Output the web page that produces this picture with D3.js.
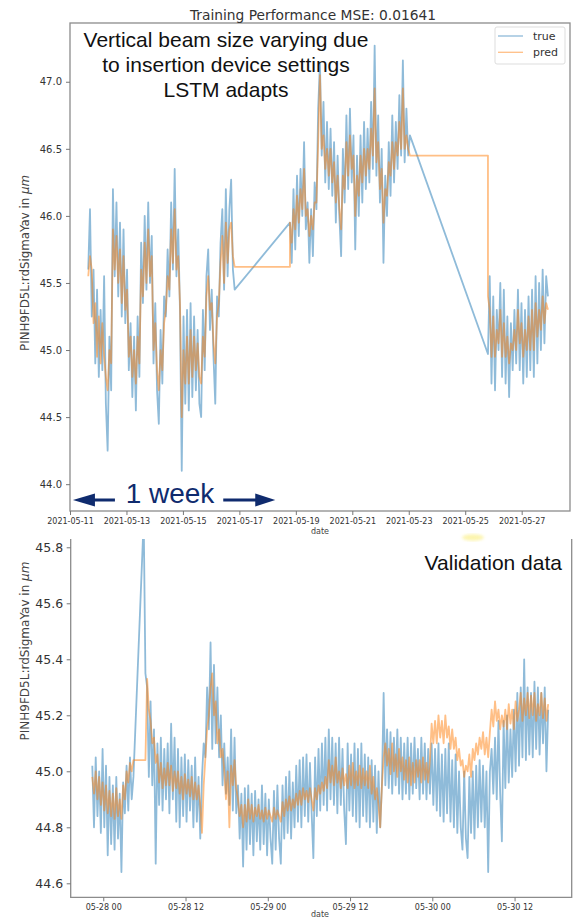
<!DOCTYPE html>
<html>
<head>
<meta charset="utf-8">
<script src="https://cdn.jsdelivr.net/npm/d3@7"></script>
<style>
  html, body { margin: 0; padding: 0; background: #fff; }
  svg { display: block; }
  .tick text { fill: #333; font-family: "DejaVu Sans", sans-serif; }
  .tick line { stroke: #777; stroke-width: 1; }
</style>
</head>
<body>
<svg id="chart" width="577" height="918"></svg>
<script>
// ---------------- data ----------------
// Training period: three sampled segments, one value every 90 minutes
const trainTickDates = ["2021-05-11","2021-05-13","2021-05-15","2021-05-17","2021-05-19",
                        "2021-05-21","2021-05-23","2021-05-25","2021-05-27"];
const trainYTicks = [44.0, 44.5, 45.0, 45.5, 46.0, 46.5, 47.0];
const trainSegStarts = ["2021-05-11T15:30", "2021-05-18T19:00", "2021-05-25T19:20"];
const trainStepMin = 90;

const trainTrue1 = [45.60,46.05,45.25,45.60,44.90,45.45,44.80,45.30,44.85,45.55,
                    44.60,44.25,45.10,44.70,46.20,45.55,46.10,45.40,45.95,45.25,
                    45.90,45.20,45.60,44.85,45.20,44.65,45.10,44.55,45.25,44.80,
                    45.80,45.35,46.00,45.45,46.10,45.50,45.85,44.90,45.35,44.70,
                    44.45,45.15,44.75,45.40,45.25,45.75,45.40,46.10,45.60,46.35,
                    45.55,45.90,45.30,44.10,45.25,44.60,45.30,44.55,45.35,44.65,
                    45.25,44.70,45.15,44.60,44.50,45.30,44.85,45.55,45.75,45.15,
                    45.45,44.95,44.60,45.40,45.25,45.80,46.05,45.45,46.20,45.55,
                    46.05,46.27,45.60,45.45];
const trainPred1 = [45.55,45.70,45.60,45.20,45.35,44.95,45.25,44.90,45.20,44.95,
                    44.80,44.70,45.00,44.90,45.90,45.60,45.85,45.50,45.75,45.35,
                    45.70,45.30,45.45,44.95,45.10,44.80,45.00,44.75,45.10,44.90,
                    45.60,45.40,45.80,45.50,45.90,45.55,45.70,45.00,45.20,44.85,
                    44.70,45.00,44.85,45.20,45.30,45.55,45.45,45.90,45.65,46.05,
                    45.60,45.70,45.35,44.50,45.00,44.75,45.10,44.75,45.15,44.80,
                    45.10,44.85,45.05,44.80,44.75,45.10,44.95,45.40,45.55,45.30,
                    45.35,45.05,44.90,45.25,45.35,45.65,45.85,45.50,45.95,45.65,
                    45.90,45.95,45.70,45.62];

const trainTrue2 = [45.95,45.65,46.20,45.75,46.30,45.85,46.35,46.00,46.55,45.90,
                    46.10,45.65,46.05,45.70,46.25,46.05,46.80,47.14,46.45,46.85,
                    46.25,46.70,46.20,46.65,46.15,46.55,45.95,46.45,46.00,45.70,
                    46.50,46.10,46.75,46.20,46.80,46.25,46.60,45.75,46.45,46.00,
                    46.60,46.10,46.70,46.20,46.65,46.25,46.85,46.35,47.27,46.30,
                    46.75,46.10,46.50,45.65,46.30,46.00,46.55,46.15,46.75,46.25,
                    46.70,46.35,46.90,46.45,47.16,46.40,46.80,46.45,46.60];
const trainPred2 = [45.95,45.80,46.05,45.90,46.15,45.95,46.20,46.05,46.35,46.00,
                    46.05,45.85,46.00,45.90,46.10,46.10,46.55,47.05,46.50,46.60,
                    46.35,46.50,46.30,46.50,46.25,46.40,46.10,46.30,46.05,45.90,
                    46.30,46.20,46.55,46.30,46.60,46.35,46.45,46.00,46.30,46.15,
                    46.45,46.25,46.50,46.30,46.50,46.35,46.65,46.45,46.95,46.40,
                    46.55,46.20,46.35,45.95,46.20,46.15,46.40,46.30,46.55,46.35,
                    46.55,46.45,46.70,46.50,46.95,46.50,46.60,46.50,46.45];

const trainTrue3 = [44.97,45.55,44.75,45.40,44.70,45.30,45.00,45.50,44.80,45.45,
                    44.75,45.25,44.65,45.20,44.85,45.30,44.90,45.45,44.85,45.35,
                    44.75,45.30,44.80,45.40,44.85,45.45,44.80,45.55,44.90,45.50,
                    45.00,45.60,45.05,45.55,45.40];
const trainPred3 = [45.40,45.30,44.95,45.25,44.95,45.15,45.05,45.30,44.95,45.20,
                    44.95,45.10,44.90,45.05,45.00,45.15,45.00,45.30,45.05,45.20,
                    44.95,45.15,45.00,45.25,45.00,45.30,45.00,45.35,45.10,45.30,
                    45.15,45.40,45.20,45.35,45.30];

// Validation period: one value every 15 minutes (null = no sample)
const valTickTimes = ["2021-05-28T00:00","2021-05-28T12:00","2021-05-29T00:00",
                      "2021-05-29T12:00","2021-05-30T00:00","2021-05-30T12:00"];
const valYTicks = [44.6, 44.8, 45.0, 45.2, 45.4, 45.6, 45.8];
const valStart = "2021-05-27T22:24";
const valStepMin = 15;

const valTrue = [45.02,44.80,45.05,44.84,45.00,44.78,45.08,44.80,45.02,44.70,
                 44.98,44.74,44.95,44.72,44.98,44.76,44.92,44.64,44.96,44.85,
                 45.02,44.86,45.05,44.90,44.98,null,null,null,null,null,
                 45.90,45.35,45.30,44.98,45.25,44.95,45.15,44.67,45.10,44.88,
                 45.12,44.86,45.08,44.90,45.10,44.85,45.17,44.90,45.12,44.82,
                 45.08,44.80,45.05,44.84,45.06,44.82,45.04,44.86,45.02,44.80,
                 45.05,44.82,44.98,44.76,44.98,45.10,45.05,45.30,45.15,45.46,
                 45.08,45.38,45.10,45.30,45.05,45.20,44.95,45.10,44.92,45.05,
                 44.88,45.15,44.86,45.12,44.85,44.95,44.76,44.92,44.66,44.94,
                 44.72,44.95,44.74,44.92,44.70,44.93,44.75,44.90,44.72,44.95,
                 44.74,44.92,44.70,44.90,44.76,44.67,44.93,44.72,44.95,44.76,
                 44.67,44.95,44.76,44.98,44.78,45.00,44.76,44.96,44.80,45.02,
                 44.82,45.04,44.80,45.05,44.84,45.06,44.82,45.03,44.85,44.69,
                 45.05,44.84,45.08,44.86,45.10,44.88,45.12,44.86,45.15,44.90,
                 45.12,44.88,45.10,44.85,45.12,44.88,45.08,44.86,44.74,45.10,
                 44.86,45.06,44.84,45.10,44.82,45.08,44.80,45.10,44.84,45.06,
                 44.82,45.05,44.80,45.04,44.82,45.02,44.78,45.00,44.80,44.95,
                 45.28,44.95,45.15,44.94,45.14,44.92,45.12,44.95,45.15,44.92,
                 45.12,44.90,45.10,44.92,45.12,44.90,45.10,44.92,45.12,44.94,
                 45.08,44.90,45.12,44.92,45.10,44.90,45.08,44.92,45.10,44.88,
                 45.08,44.86,45.10,44.84,45.06,44.82,45.08,44.85,45.10,44.82,
                 45.04,44.80,45.06,44.78,45.00,44.80,44.72,45.00,44.76,44.69,
                 44.98,44.78,45.00,44.76,45.02,44.80,45.04,44.82,45.02,44.80,
                 45.00,44.64,45.00,45.08,44.92,45.12,44.90,45.18,44.92,44.75,
                 45.18,44.94,45.20,44.96,45.15,44.98,45.22,45.00,45.28,45.02,
                 45.30,45.05,45.40,45.04,45.30,45.06,45.28,45.05,45.32,45.08,
                 45.30,45.06,45.28,45.10,45.30,45.00,45.22];
const valPred = [44.98,44.92,45.00,44.90,44.98,44.88,44.96,44.86,44.95,44.85,
                 44.93,44.84,44.92,44.83,44.94,44.84,44.90,44.83,44.95,44.90,
                 45.00,44.96,45.03,45.00,45.04,null,null,null,null,null,
                 null,45.04,45.33,45.22,45.18,45.10,45.12,45.03,45.06,44.96,
                 45.03,44.94,45.01,44.95,45.03,44.95,45.02,44.93,45.00,44.94,
                 45.00,44.92,44.98,44.90,44.99,44.92,44.97,44.91,44.98,44.90,
                 44.96,44.90,44.95,44.88,44.78,44.95,45.05,45.15,45.20,45.30,
                 45.35,45.20,45.25,45.10,45.15,45.05,45.08,45.00,44.90,45.00,
                 44.80,45.02,44.95,45.04,44.94,44.90,44.84,44.88,44.80,44.88,
                 44.82,44.90,44.83,44.88,44.82,44.87,44.84,44.88,44.83,44.86,
                 44.82,44.87,44.83,44.86,44.84,44.82,44.87,44.83,44.86,44.84,
                 44.82,44.89,44.84,44.90,44.86,44.91,44.86,44.90,44.87,44.92,
                 44.88,44.93,44.88,44.94,44.90,44.93,44.89,44.94,44.90,44.86,
                 44.94,44.90,44.95,44.92,44.96,44.93,44.98,44.94,45.04,44.96,
                 45.02,44.95,45.05,44.96,45.00,44.94,45.01,44.95,44.99,44.94,
                 45.02,44.95,45.03,44.94,45.00,44.95,45.02,44.94,45.01,44.95,
                 45.00,44.94,45.02,44.92,44.98,44.90,44.94,44.88,44.80,44.95,
                 45.05,45.10,45.02,45.08,44.99,45.10,45.00,45.06,44.98,45.08,
                 45.00,45.05,44.97,45.04,44.96,45.05,44.95,45.03,44.96,45.04,
                 44.98,45.04,44.96,45.05,44.97,45.03,44.96,45.04,45.17,45.10,
                 45.18,45.10,45.20,45.12,45.18,45.10,45.20,45.12,45.16,45.08,
                 45.15,45.08,45.12,45.04,45.08,45.02,45.04,44.98,45.02,45.00,
                 45.06,44.98,45.08,45.04,45.10,45.06,45.12,45.08,45.14,45.06,
                 45.12,45.05,45.14,45.22,45.16,45.25,45.18,45.22,45.15,45.20,
                 45.16,45.22,45.15,45.24,45.17,45.22,45.15,45.25,45.18,45.22,
                 45.28,45.18,45.26,45.20,45.28,45.19,45.27,45.20,45.28,45.18,
                 45.24,45.20,45.28,45.19,45.26,45.18,45.24];

const seriesNames = ["true", "pred"];
const seriesColors = ["#1f77b4", "#ff7f0e"];

// ---------------- helpers ----------------
const parseT = d3.utcParse("%Y-%m-%dT%H:%M");
const parseD = d3.utcParse("%Y-%m-%d");

function sampled(start, stepMin, values) {
  const t0 = parseT(start).getTime();
  return values.map((v, i) => ({ t: new Date(t0 + i * stepMin * 60000), v }))
               .filter(d => d.v !== null);
}

const svg = d3.select("#chart");
const FONT = "'DejaVu Sans', sans-serif";
const SPINE = "#8c8c8c";
const LW = 1.8;

// ================= training chart =================
const topBox = { left: 70, right: 570, top: 23, bottom: 511 };
const xT = d3.scaleUtc()
  .domain([parseT("2021-05-11T00:00"), parseT("2021-05-28T17:05")])
  .range([topBox.left, topBox.right]);
const yT = d3.scaleLinear().domain([43.80, 47.438]).range([topBox.bottom, topBox.top]);

const segT = trainSegStarts.map((s, k) =>
  sampled(s, trainStepMin, [trainTrue1, trainTrue2, trainTrue3][k]));
const segP = trainSegStarts.map((s, k) =>
  sampled(s, trainStepMin, [trainPred1, trainPred2, trainPred3][k]));

const trainTrueData = [].concat(...segT);
// the prediction holds its last value until the next segment begins
const trainPredData = [];
segP.forEach((seg, k) => {
  if (k > 0) trainPredData.push({ t: seg[0].t, v: segP[k - 1][segP[k - 1].length - 1].v });
  trainPredData.push(...seg);
});

const defs = svg.append("defs");
defs.append("clipPath").attr("id", "clipTop").append("rect")
  .attr("x", topBox.left).attr("y", topBox.top)
  .attr("width", topBox.right - topBox.left).attr("height", topBox.bottom - topBox.top);

const lineT = d3.line().x(d => xT(d.t)).y(d => yT(d.v));
const gTop = svg.append("g").attr("clip-path", "url(#clipTop)");
gTop.append("path").datum(trainTrueData).attr("d", lineT)
  .attr("fill", "none").attr("stroke", seriesColors[0]).attr("stroke-opacity", 0.5)
  .attr("stroke-width", LW).attr("stroke-linejoin", "round");
gTop.append("path").datum(trainPredData).attr("d", lineT)
  .attr("fill", "none").attr("stroke", seriesColors[1]).attr("stroke-opacity", 0.5)
  .attr("stroke-width", LW).attr("stroke-linejoin", "round");

// spines
svg.append("rect").attr("x", topBox.left).attr("y", topBox.top)
  .attr("width", topBox.right - topBox.left).attr("height", topBox.bottom - topBox.top)
  .attr("fill", "none").attr("stroke", SPINE).attr("stroke-width", 1.3);

// axes
const axYT = svg.append("g").attr("transform", `translate(${topBox.left},0)`)
  .call(d3.axisLeft(yT).tickValues(trainYTicks).tickFormat(d3.format(".1f"))
    .tickSize(4).tickPadding(4));
axYT.select(".domain").remove();
axYT.selectAll("text").attr("font-size", 10).attr("fill", "#444");

const axXT = svg.append("g").attr("transform", `translate(0,${topBox.bottom})`)
  .call(d3.axisBottom(xT).tickValues(trainTickDates.map(parseD))
    .tickFormat(d3.utcFormat("%Y-%m-%d")).tickSize(4).tickPadding(3.5));
axXT.select(".domain").remove();
axXT.selectAll("text").attr("font-size", 8).attr("fill", "#444");

svg.append("text").attr("x", 320).attr("y", 534).attr("text-anchor", "middle")
  .attr("font-family", FONT).attr("font-size", 8).attr("fill", "#444").text("date");

const ylabT = svg.append("text")
  .attr("transform", `translate(29,${(topBox.top + topBox.bottom) / 2 - 4}) rotate(-90)`)
  .attr("text-anchor", "middle").attr("font-family", FONT).attr("font-size", 11.8).attr("fill", "#444");
ylabT.append("tspan").text("PINH9FD5L:rdSigmaYav in ");
ylabT.append("tspan").attr("font-style", "italic").text("μm");

svg.append("text").attr("x", 313).attr("y", 20).attr("text-anchor", "middle")
  .attr("font-family", FONT).attr("font-size", 13.8).attr("fill", "#333")
  .text("Training Performance MSE: 0.01641");

// legend
const lg = svg.append("g");
lg.append("rect").attr("x", 495).attr("y", 27).attr("width", 70).attr("height", 37).attr("rx", 2)
  .attr("fill", "#fff").attr("fill-opacity", 0.85).attr("stroke", "#ddd").attr("stroke-width", 1);
seriesNames.forEach((name, k) => {
  const yy = 36 + k * 16.3;
  lg.append("line").attr("x1", 498).attr("x2", 523).attr("y1", yy).attr("y2", yy)
    .attr("stroke", seriesColors[k]).attr("stroke-opacity", 0.5).attr("stroke-width", 1.3);
  lg.append("text").attr("x", 533).attr("y", yy + 4).attr("font-family", FONT)
    .attr("font-size", 11).attr("fill", "#333").text(name);
});

// annotation text
const ANNO = "'Liberation Sans', Arial, sans-serif";
["Vertical beam size varying due", "to insertion device settings", "LSTM adapts"].forEach((s, k) => {
  svg.append("text").attr("x", 226).attr("y", 46.7 + k * 25.3).attr("text-anchor", "middle")
    .attr("font-family", ANNO).attr("font-size", 21).attr("fill", "#111").text(s);
});

// "1 week" span marker
const NAVY = "#0f2b6e";
const arrowY = 500;
const wkL = xT(parseT("2021-05-11T02:30"));
const wkR = xT(parseT("2021-05-18T06:30"));
svg.append("line").attr("x1", wkL + 20).attr("x2", wkL + 42).attr("y1", arrowY).attr("y2", arrowY)
  .attr("stroke", NAVY).attr("stroke-width", 3);
svg.append("path").attr("d", `M${wkL},${arrowY}L${wkL + 22},${arrowY - 6.5}L${wkL + 22},${arrowY + 6.5}Z`)
  .attr("fill", NAVY);
svg.append("line").attr("x1", wkR - 52).attr("x2", wkR - 18).attr("y1", arrowY).attr("y2", arrowY)
  .attr("stroke", NAVY).attr("stroke-width", 3);
svg.append("path").attr("d", `M${wkR},${arrowY}L${wkR - 20},${arrowY - 6.5}L${wkR - 20},${arrowY + 6.5}Z`)
  .attr("fill", NAVY);
svg.append("text").attr("x", 170).attr("y", 502.7).attr("text-anchor", "middle")
  .attr("font-family", ANNO).attr("font-size", 28).attr("fill", NAVY).text("1 week");

// small highlighter smudge
defs.append("filter").attr("id", "soft").append("feGaussianBlur").attr("stdDeviation", 1.5);
svg.append("ellipse").attr("cx", 473).attr("cy", 537.5).attr("rx", 11).attr("ry", 3.2)
  .attr("fill", "#fbf29a").attr("opacity", 0.8).attr("filter", "url(#soft)");

// ================= validation chart =================
const botBox = { left: 70.7, right: 571.7, top: 539, bottom: 897.3 };
const xV = d3.scaleUtc()
  .domain([parseT("2021-05-27T19:15"), parseT("2021-05-30T20:20")])
  .range([botBox.left, botBox.right]);
const yV = d3.scaleLinear().domain([44.55, 45.8296]).range([botBox.bottom, botBox.top]);

defs.append("clipPath").attr("id", "clipBot").append("rect")
  .attr("x", botBox.left).attr("y", botBox.top)
  .attr("width", botBox.right - botBox.left).attr("height", botBox.bottom - botBox.top);

const lineV = d3.line().x(d => xV(d.t)).y(d => yV(d.v));
const gBot = svg.append("g").attr("clip-path", "url(#clipBot)");
gBot.append("path").datum(sampled(valStart, valStepMin, valTrue)).attr("d", lineV)
  .attr("fill", "none").attr("stroke", seriesColors[0]).attr("stroke-opacity", 0.5)
  .attr("stroke-width", LW).attr("stroke-linejoin", "round");
gBot.append("path").datum(sampled(valStart, valStepMin, valPred)).attr("d", lineV)
  .attr("fill", "none").attr("stroke", seriesColors[1]).attr("stroke-opacity", 0.5)
  .attr("stroke-width", LW).attr("stroke-linejoin", "round");

// spines (top edge lies beyond the visible area)
svg.append("path")
  .attr("d", `M${botBox.left},${botBox.top}V${botBox.bottom}H${botBox.right}V${botBox.top}`)
  .attr("fill", "none").attr("stroke", SPINE).attr("stroke-width", 1.3);

const axYV = svg.append("g").attr("transform", `translate(${botBox.left},0)`)
  .call(d3.axisLeft(yV).tickValues(valYTicks).tickFormat(d3.format(".1f"))
    .tickSize(4).tickPadding(3.5));
axYV.select(".domain").remove();
axYV.selectAll("text").attr("font-size", 12.5).attr("fill", "#333");

const axXV = svg.append("g").attr("transform", `translate(0,${botBox.bottom})`)
  .call(d3.axisBottom(xV).tickValues(valTickTimes.map(parseT))
    .tickFormat(d3.utcFormat("%m-%d %H")).tickSize(4).tickPadding(3.5));
axXV.select(".domain").remove();
axXV.selectAll("text").attr("font-size", 8).attr("fill", "#444");

svg.append("text").attr("x", 320).attr("y", 916.5).attr("text-anchor", "middle")
  .attr("font-family", FONT).attr("font-size", 8).attr("fill", "#444").text("date");

const ylabV = svg.append("text")
  .attr("transform", `translate(29,651) rotate(-90)`)
  .attr("text-anchor", "middle").attr("font-family", FONT).attr("font-size", 12).attr("fill", "#444");
ylabV.append("tspan").text("PINH9FD5L:rdSigmaYav in ");
ylabV.append("tspan").attr("font-style", "italic").text("μm");

svg.append("text").attr("x", 562).attr("y", 570).attr("text-anchor", "end")
  .attr("font-family", ANNO).attr("font-size", 21).attr("fill", "#111").text("Validation data");
</script>
</body>
</html>
